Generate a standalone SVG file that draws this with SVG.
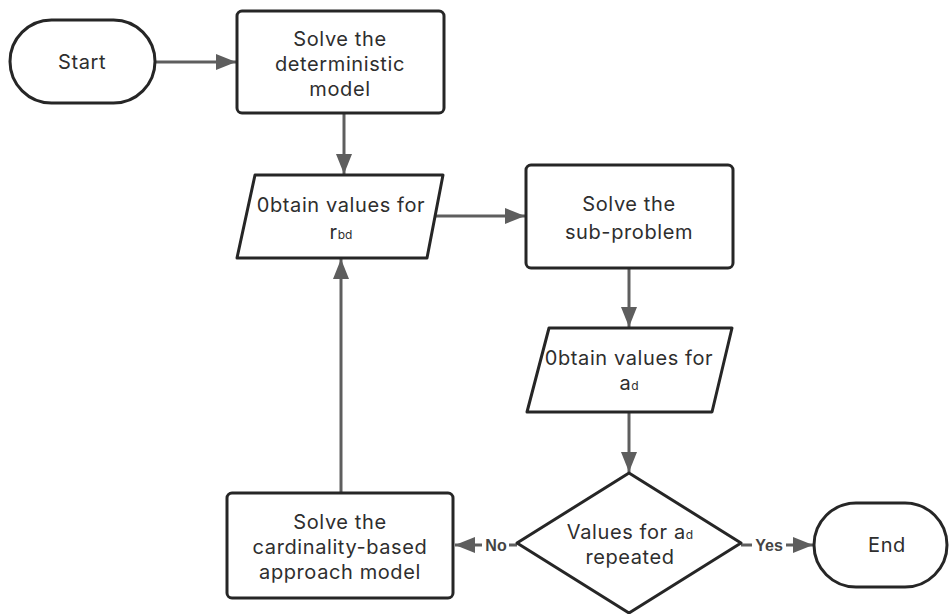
<svg xmlns="http://www.w3.org/2000/svg" width="950" height="614" viewBox="0 0 950 614">
<style>
.n{fill:#fff;stroke:#262626;stroke-width:3;stroke-linejoin:round}
.t{font-family:Inter,"Noto Sans","Liberation Sans",sans-serif;font-size:20px;letter-spacing:0.6px;fill:#2e2e2e;text-anchor:middle}
.s{font-size:12px;letter-spacing:0}
.c{fill:none;stroke:#5e5e5e;stroke-width:3}
.l{font-family:"Liberation Sans",Arial,sans-serif;font-size:16px;font-weight:bold;fill:#444;text-anchor:middle}
</style>
<defs>
<marker id="a" viewBox="0 0 20 16" refX="20" refY="8" markerWidth="20" markerHeight="16" markerUnits="userSpaceOnUse" orient="auto">
<path d="M0,0 L20,8 L0,16 z" fill="#5e5e5e"/>
</marker>
</defs>
<g id="connectors">
<line class="c" x1="155" y1="62" x2="236" y2="62" marker-end="url(#a)"/>
<line class="c" x1="344" y1="113" x2="344" y2="174" marker-end="url(#a)"/>
<line class="c" x1="435" y1="216" x2="525" y2="216" marker-end="url(#a)"/>
<line class="c" x1="629" y1="268" x2="629" y2="327" marker-end="url(#a)"/>
<line class="c" x1="629" y1="412" x2="629" y2="472" marker-end="url(#a)"/>
<line class="c" x1="341" y1="493" x2="341" y2="259" marker-end="url(#a)"/>
<line class="c" x1="517" y1="545" x2="455" y2="545" marker-end="url(#a)"/>
<line class="c" x1="741" y1="545" x2="813" y2="545" marker-end="url(#a)"/>
<rect x="482" y="535" width="27" height="20" fill="#fff"/>
<text class="l" x="496" y="551">No</text>
<rect x="752" y="535" width="34" height="20" fill="#fff"/>
<text class="l" x="769" y="551">Yes</text>
</g>
<g id="start">
<rect class="n" x="10" y="20" width="145" height="83" rx="41.5"/>
<text class="t" x="82" y="69">Start</text>
</g>
<g id="solve-deterministic">
<rect class="n" x="237" y="11" width="207" height="102" rx="5"/>
<text class="t" x="340" y="46">Solve the</text>
<text class="t" x="340" y="71">deterministic</text>
<text class="t" x="340" y="96">model</text>
</g>
<g id="obtain-rbd">
<path class="n" d="M255,175 L443,175 L427,258 L237,258 Z"/>
<text class="t" x="341" y="212">0btain values for</text>
<text class="t" x="341" y="239">r<tspan class="s">bd</tspan></text>
</g>
<g id="solve-subproblem">
<rect class="n" x="526" y="165" width="207" height="103" rx="5"/>
<text class="t" x="629" y="211">Solve the</text>
<text class="t" x="629" y="239">sub-problem</text>
</g>
<g id="obtain-ad">
<path class="n" d="M549,328 L732,328 L712,412 L527,412 Z"/>
<text class="t" x="629" y="365">0btain values for</text>
<text class="t" x="629" y="390">a<tspan class="s">d</tspan></text>
</g>
<g id="decision">
<path class="n" d="M629,473 L741,543 L629,613 L517,543 Z"/>
<text class="t" x="630" y="539">Values for a<tspan class="s">d</tspan></text>
<text class="t" x="630" y="564">repeated</text>
</g>
<g id="solve-cardinality">
<rect class="n" x="227" y="493" width="226" height="105" rx="5"/>
<text class="t" x="340" y="529">Solve the</text>
<text class="t" x="340" y="554">cardinality-based</text>
<text class="t" x="340" y="579">approach model</text>
</g>
<g id="end">
<rect class="n" x="814" y="503" width="133" height="84" rx="42"/>
<text class="t" x="887" y="552">End</text>
</g>
</svg>
